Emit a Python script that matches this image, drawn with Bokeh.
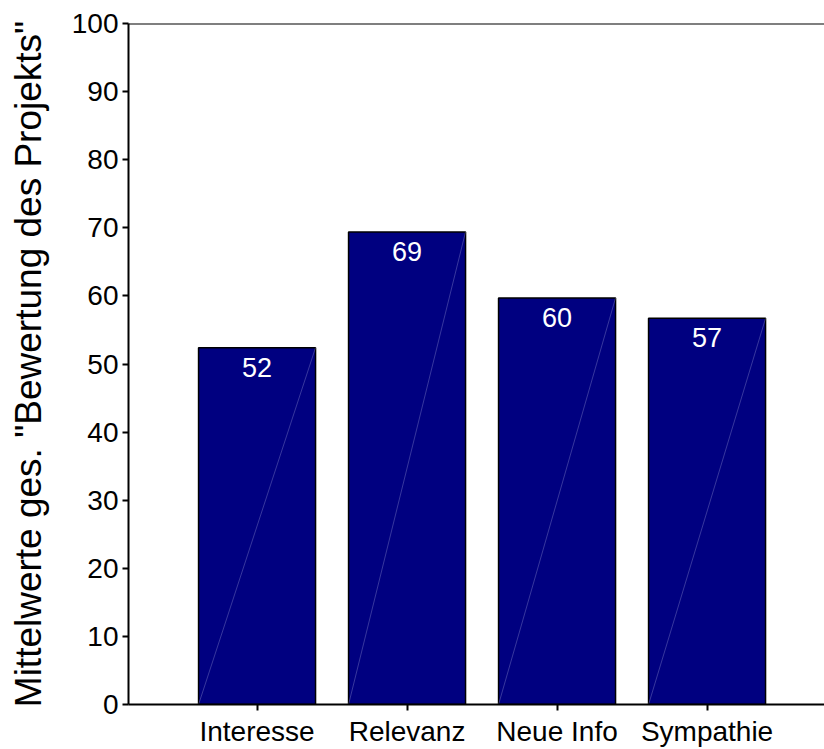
from bokeh.plotting import figure
from bokeh.models import ColumnDataSource, Range1d, FixedTicker, Span
from bokeh.embed import file_html
from bokeh.resources import INLINE
from bokeh.core.properties import value

# ---- data ----
categories = ["Interesse", "Relevanz", "Neue Info", "Sympathie"]
means = [52.4, 69.4, 59.7, 56.7]
value_labels = ["52", "69", "60", "57"]
y_ticks = [0, 10, 20, 30, 40, 50, 60, 70, 80, 90, 100]
y_title = 'Mittelwerte ges. "Bewertung des Projekts"'

FONT = "Liberation Sans"
BAR_COLOR = "#000080"
BAR_WIDTH = 0.78

xs = list(range(len(categories)))
src = ColumnDataSource(dict(
    x=xs,
    top=means,
    left=[i - BAR_WIDTH / 2 for i in xs],
    right=[i + BAR_WIDTH / 2 for i in xs],
    zero=[0] * len(xs),
    label=value_labels,
))

p = figure(width=824, height=749,
           x_range=Range1d(-0.857, 3.783),
           y_range=Range1d(y_ticks[0], y_ticks[-1]),
           output_backend="svg", toolbar_location=None,
           min_border_left=128, min_border_right=0,
           min_border_top=23, min_border_bottom=43)
p.outline_line_color = None
p.grid.visible = False
p.background_fill_color = "white"
p.border_fill_color = "white"

p.vbar(x="x", top="top", bottom=0, width=BAR_WIDTH, source=src,
       fill_color=BAR_COLOR, line_color="black", line_width=1.5)
p.segment(x0="left", y0="zero", x1="right", y1="top", source=src,
          line_color="#b0b0e0", line_alpha=0.45, line_width=0.7)
p.text(x="x", y="top", text="label", source=src,
       text_align="center", text_baseline="top", y_offset=10,
       text_color="white", text_font=value(FONT), text_font_size="27px")

p.add_layout(Span(location=y_ticks[-1], dimension="width",
                  line_color="black", line_width=2))

# y axis
ya = p.yaxis[0]
ya.ticker = FixedTicker(ticks=y_ticks)
ya.axis_label = y_title
ya.axis_label_text_font = FONT
ya.axis_label_text_font_style = "normal"
ya.axis_label_text_font_size = "37px"
ya.axis_label_text_color = "black"
ya.axis_label_standoff = 20
ya.major_label_text_font = FONT
ya.major_label_text_font_size = "28px"
ya.major_label_text_color = "black"
ya.major_label_standoff = 4
ya.major_tick_in = 0
ya.major_tick_out = 6
ya.minor_tick_line_color = None
ya.axis_line_width = 2
ya.major_tick_line_width = 2

# x axis
xa = p.xaxis[0]
xa.ticker = FixedTicker(ticks=xs)
xa.major_label_overrides = {i: c for i, c in zip(xs, categories)}
xa.major_label_text_font = FONT
xa.major_label_text_font_size = "28px"
xa.major_label_text_color = "black"
xa.major_label_standoff = 5
xa.major_tick_in = 0
xa.major_tick_out = 6
xa.minor_tick_line_color = None
xa.axis_line_width = 2
xa.major_tick_line_width = 2

open("out.html", "w").write(file_html(p, INLINE))
